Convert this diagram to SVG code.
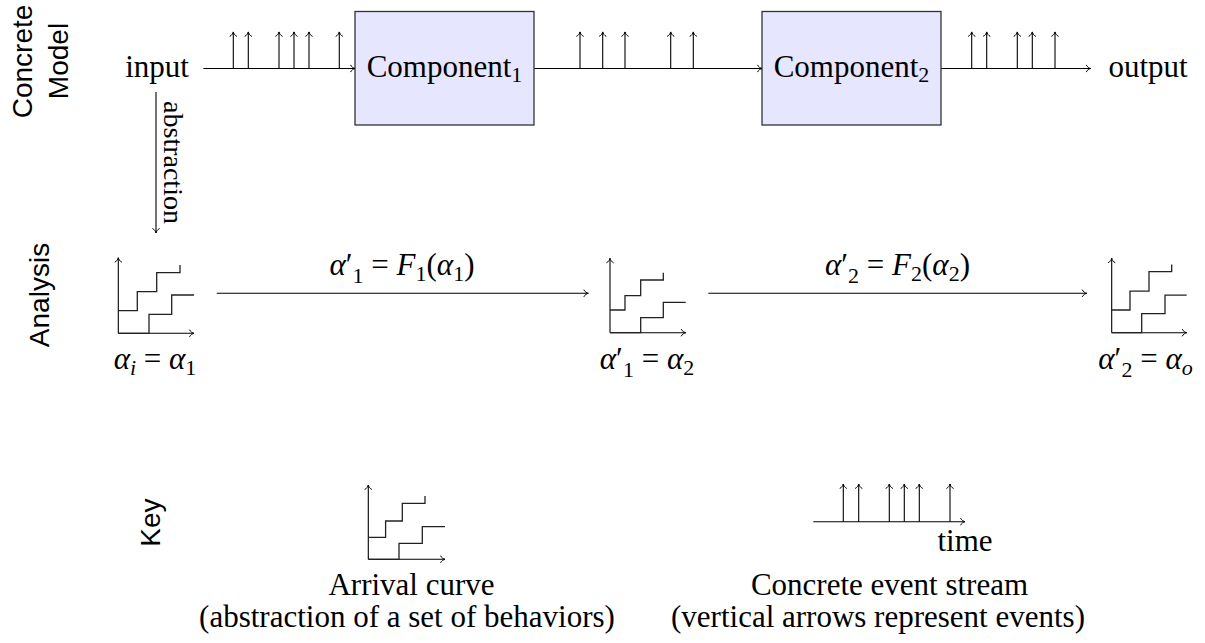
<svg xmlns="http://www.w3.org/2000/svg" width="1205" height="643" viewBox="0 0 1205 643">
<style>
.t{font-family:"Liberation Serif","Times New Roman",serif;font-size:31px;fill:#000}
.sm{font-family:"Liberation Serif","Times New Roman",serif;font-size:28px;fill:#000}
.sf{font-family:"Liberation Sans",Arial,sans-serif;font-size:28px;fill:#000}
.sub{font-size:22px}
.i{font-style:italic}
.ar{fill:none;stroke:#000;stroke-width:1.1;marker-end:url(#to)}
.box{fill:#e6e6ff;stroke:#333;stroke-width:1.3}
.cv{fill:none;stroke:#222;stroke-width:1.3}
</style>
<defs>
<marker id="to" markerUnits="userSpaceOnUse" orient="auto" refX="0" refY="0" markerWidth="8" markerHeight="10" overflow="visible">
<path d="M-4.5,-3.6 C-3.6,-1.5 -1.3,-0.3 0,0 C-1.3,0.3 -3.6,1.5 -4.5,3.6" fill="none" stroke="#000" stroke-width="1"/>
</marker>
<path id="ev" class="ar" d="M0,0 V-36.6"/>
<path id="evk" class="ar" d="M0,0 V-37.7"/>
</defs>

<!-- row labels -->
<g id="row-labels">
<text class="sf" text-anchor="middle" transform="translate(32,61.5) rotate(-90)">Concrete</text>
<text class="sf" text-anchor="middle" transform="translate(67.5,61) rotate(-90)">Model</text>
<text class="sf" text-anchor="middle" transform="translate(48.5,295) rotate(-90)">Analysis</text>
<text class="sf" text-anchor="middle" transform="translate(160,522.5) rotate(-90)">Key</text>
</g>

<!-- concrete model nodes -->
<g id="input"><text class="t" x="157" y="77" text-anchor="middle">input</text></g>
<g id="component1">
<rect class="box" x="355" y="11.5" width="179" height="113.5"/>
<text class="t" x="444.5" y="77" text-anchor="middle">Component<tspan class="sub" dy="5">1</tspan></text>
</g>
<g id="component2">
<rect class="box" x="762" y="11.5" width="179" height="113.5"/>
<text class="t" x="851.5" y="77" text-anchor="middle">Component<tspan class="sub" dy="5">2</tspan></text>
</g>
<g id="output"><text class="t" x="1148" y="77" text-anchor="middle">output</text></g>

<!-- analysis nodes -->
<g id="curve1" transform="translate(118.3,333.3)">
<path class="ar" d="M0,0 V-75.6"/><path class="ar" d="M0,0 H75.7"/>
<path class="cv" d="M0,-22.7 H19 V-41.7 H38.4 V-60.7 H61.7 V-68.3"/>
<path class="cv" d="M0,0 H30.7 V-19 H53.4 V-38.3 H75.7"/>
</g>
<g id="curve1-label"><text class="t" x="155" y="369" text-anchor="middle"><tspan class="i">α</tspan><tspan class="sub i" dy="6">i</tspan><tspan dy="-6"> = </tspan><tspan class="i">α</tspan><tspan class="sub" dy="6">1</tspan></text></g>

<g id="curve2" transform="translate(610,332.7)">
<path class="ar" d="M0,0 V-74.4"/><path class="ar" d="M0,0 H75.7"/>
<path class="cv" d="M0,-22.7 H15 V-37 H30.7 V-52.7 H53.3 V-60"/>
<path class="cv" d="M0,0 H30.7 V-15 H53.3 V-30.3 H75.7"/>
</g>
<g id="curve2-label"><text class="t" x="647" y="369" text-anchor="middle"><tspan class="i">α</tspan>′<tspan class="sub" dy="8">1</tspan><tspan dy="-8"> = </tspan><tspan class="i">α</tspan><tspan class="sub" dy="6">2</tspan></text></g>

<g id="curve3" transform="translate(1111.7,332.7)">
<path class="ar" d="M0,0 V-74.4"/><path class="ar" d="M0,0 H75"/>
<path class="cv" d="M0,-22.7 H18.3 V-41.6 H37.3 V-61 H60 V-68.3"/>
<path class="cv" d="M0,0 H30 V-19 H53.3 V-37.6 H75"/>
</g>
<g id="curve3-label"><text class="t" x="1145.5" y="369" text-anchor="middle"><tspan class="i">α</tspan>′<tspan class="sub" dy="8">2</tspan><tspan dy="-8"> = </tspan><tspan class="i">α</tspan><tspan class="sub i" dy="6">o</tspan></text></g>

<!-- connectors -->
<g id="connectors">
<path class="ar" d="M203.3,68.5 H355"/>
<g id="events-in">
<use href="#ev" x="233.3" y="68.5"/><use href="#ev" x="248.3" y="68.5"/><use href="#ev" x="279" y="68.5"/>
<use href="#ev" x="294" y="68.5"/><use href="#ev" x="309" y="68.5"/><use href="#ev" x="339.3" y="68.5"/>
</g>
<path class="ar" d="M534.3,68.5 H762"/>
<g id="events-mid">
<use href="#ev" x="580" y="68.5"/><use href="#ev" x="602.7" y="68.5"/><use href="#ev" x="625" y="68.5"/>
<use href="#ev" x="670.7" y="68.5"/><use href="#ev" x="693.3" y="68.5"/>
</g>
<path class="ar" d="M941.3,68.5 H1090.7"/>
<g id="events-out">
<use href="#ev" x="971.7" y="68.5"/><use href="#ev" x="986.7" y="68.5"/><use href="#ev" x="1017.3" y="68.5"/>
<use href="#ev" x="1032.3" y="68.5"/><use href="#ev" x="1055" y="68.5"/>
</g>
<path class="ar" d="M156,92 V233"/>
<text class="sm" text-anchor="middle" transform="translate(164,162.5) rotate(90)">abstraction</text>
<path class="ar" d="M216.7,293.3 H588.3"/>
<text class="t" x="402" y="275" text-anchor="middle"><tspan class="i">α</tspan>′<tspan class="sub" dy="8">1</tspan><tspan dy="-8"> = </tspan><tspan class="i">F</tspan><tspan class="sub" dy="6">1</tspan><tspan dy="-6">(</tspan><tspan class="i">α</tspan><tspan class="sub" dy="6">1</tspan><tspan dy="-6">)</tspan></text>
<path class="ar" d="M708.3,293.3 H1086.7"/>
<text class="t" x="897.5" y="275" text-anchor="middle"><tspan class="i">α</tspan>′<tspan class="sub" dy="8">2</tspan><tspan dy="-8"> = </tspan><tspan class="i">F</tspan><tspan class="sub" dy="6">2</tspan><tspan dy="-6">(</tspan><tspan class="i">α</tspan><tspan class="sub" dy="6">2</tspan><tspan dy="-6">)</tspan></text>
</g>

<!-- key -->
<g id="key-arrival">
<g transform="translate(368.3,559.3)">
<path class="ar" d="M0,0 V-74.3"/><path class="ar" d="M0,0 H76.7"/>
<path class="cv" d="M0,-22 H17.3 V-38.3 H34 V-56 H56.7 V-63.3"/>
<path class="cv" d="M0,0 H30.7 V-16 H54 V-32.7 H76.7"/>
</g>
<text class="t" x="411.5" y="595" text-anchor="middle">Arrival curve</text>
<text class="t" x="407" y="627" text-anchor="middle">(abstraction of a set of behaviors)</text>
</g>
<g id="key-stream">
<path class="ar" d="M813.3,521.7 H965"/>
<use href="#evk" x="843.3" y="521.7"/><use href="#evk" x="858.7" y="521.7"/><use href="#evk" x="889.3" y="521.7"/>
<use href="#evk" x="904.3" y="521.7"/><use href="#evk" x="919.3" y="521.7"/><use href="#evk" x="950" y="521.7"/>
<text class="t" x="965" y="551" text-anchor="middle">time</text>
<text class="t" x="889.5" y="595" text-anchor="middle">Concrete event stream</text>
<text class="t" x="878" y="627" text-anchor="middle">(vertical arrows represent events)</text>
</g>
</svg>
